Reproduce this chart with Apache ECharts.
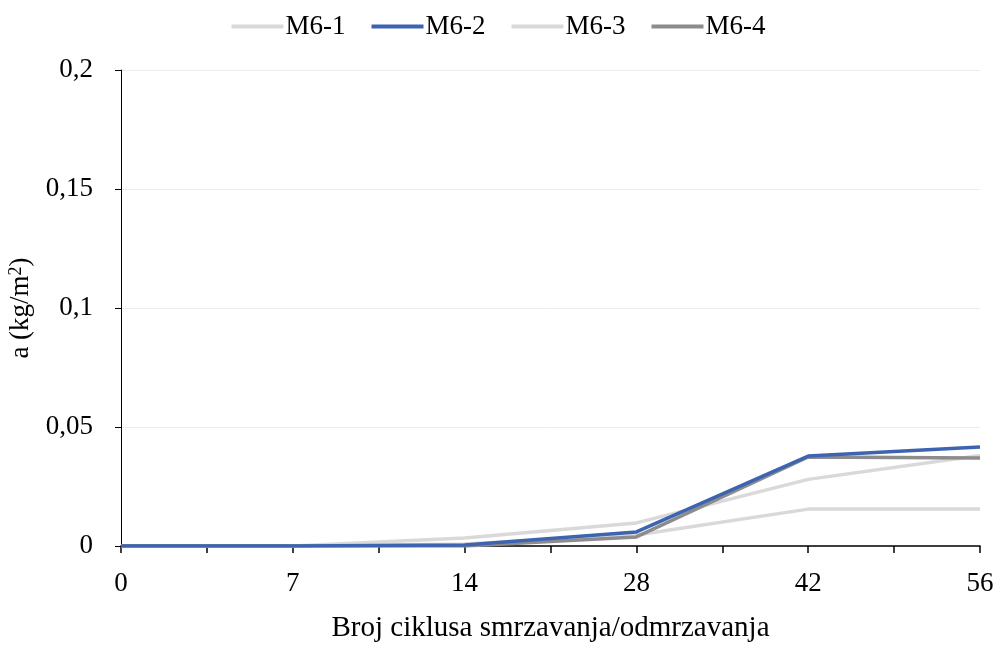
<!DOCTYPE html>
<html><head><meta charset="utf-8">
<script src="https://cdn.jsdelivr.net/npm/echarts@6/dist/echarts.min.js"></script>
<style>html,body{margin:0;padding:0;background:#fff}#c{width:997px;height:646px}</style>
</head><body><div id="c"></div>
<script>
var categories = ['0', '7', '14', '28', '42', '56'];
var seriesNames = ['M6-1', 'M6-2', 'M6-3', 'M6-4'];
var m61 = [0, 0, 0.0034, 0.0097, 0.028, 0.038];
var m62 = [0, 0, 0.0004, 0.0059, 0.0378, 0.0416];
var m63 = [0, 0, 0.0008, 0.0046, 0.0155, 0.0155];
var m64 = [0, 0, 0, 0.0038, 0.0374, 0.0370];
var yTicks = [0, 0.05, 0.1, 0.15, 0.2];

var colors = ['#d9d9d9', '#3c64b1', '#d9d9d9', '#8c8c8c'];
var FONT = '"Liberation Serif", "DejaVu Serif", serif';
function pts(arr){ return arr.map(function(v,i){ return [i, v]; }); }
var allData = [m61, m62, m63, m64];

var chart = echarts.init(document.getElementById('c'));
chart.setOption({
  animation: false,
  textStyle: {fontFamily: FONT},
  legend: {
    top: 8, left: 'center', itemWidth: 52, itemHeight: 4, itemGap: 26,
    icon: 'rect',
    textStyle: {fontFamily: FONT, fontSize: 27, color: '#000', padding: [0,0,0,-3]},
    data: seriesNames
  },
  grid: {left: 121, right: 17, top: 70, bottom: 100, containLabel: false, outerBoundsMode: 'none'},
  xAxis: {
    type: 'value', min: 0, max: categories.length - 1, interval: 1,
    name: 'Broj ciklusa smrzavanja/odmrzavanja', nameLocation: 'middle', nameGap: 68,
    nameTextStyle: {fontFamily: FONT, fontSize: 29, color: '#000'},
    axisLine: {lineStyle: {color: '#000', width: 1.5}},
    axisTick: {show: true, length: 7, lineStyle: {color: '#000', width: 1.5}},
    minorTick: {show: true, splitNumber: 2, length: 7, lineStyle: {color: '#000', width: 1.5}},
    splitLine: {show: false},
    axisLabel: {margin: 24, fontFamily: FONT, fontSize: 27, color: '#000',
      formatter: function(v){ return categories[Math.round(v)] || ''; }}
  },
  yAxis: {
    type: 'value', min: yTicks[0], max: yTicks[yTicks.length-1], interval: 0.05,
    name: 'a (kg/m{sup|2})', nameLocation: 'middle', nameGap: 71, nameRotate: 90,
    nameTextStyle: {fontFamily: FONT, fontSize: 27, color: '#000',
      rich: {sup: {fontFamily: FONT, fontSize: 18, color: '#000', verticalAlign: 'top', padding: [0,0,10,0]}}},
    axisLine: {show: true, lineStyle: {color: '#000', width: 1}},
    axisTick: {show: true, length: 6, lineStyle: {color: '#000'}},
    splitLine: {show: true, lineStyle: {color: '#ececec', width: 1}},
    axisLabel: {margin: 28, fontFamily: FONT, fontSize: 27, color: '#000',
      formatter: function(v){ return String(Math.round(v*100)/100).replace('.', ','); }}
  },
  series: seriesNames.map(function(n, k){
    return {name: n, type: 'line', data: pts(allData[k]), symbol: 'none',
      lineStyle: {color: colors[k], width: 3.5}, itemStyle: {color: colors[k]}, z: k===1?5:(k===3?4:2)};
  })
});
</script></body></html>
